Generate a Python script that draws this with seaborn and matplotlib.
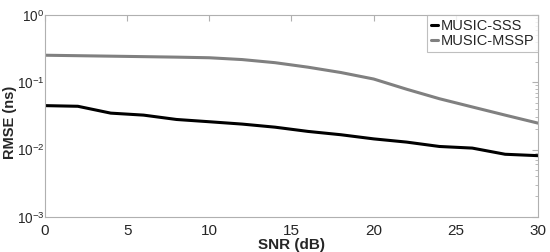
import numpy as np
import pandas as pd
import matplotlib
matplotlib.use('Agg')
import matplotlib.pyplot as plt
import seaborn as sns

# values
snr = [0, 2, 4, 6, 8, 10, 12, 14, 16, 18, 20, 22, 24, 26, 28, 30]
rmse_sss = [0.045, 0.044, 0.0348, 0.0325, 0.028, 0.0259, 0.0239, 0.0215,
            0.0186, 0.0166, 0.0144, 0.0129, 0.0111, 0.0105, 0.0085, 0.0081]
rmse_mssp = [0.253, 0.249, 0.245, 0.241, 0.237, 0.232, 0.218, 0.196,
             0.168, 0.14, 0.112, 0.079, 0.057, 0.043, 0.0325, 0.0247]
series = ['MUSIC-SSS', 'MUSIC-MSSP']
colors = ['#000000', '#808080']

df = pd.DataFrame({
    'SNR': snr * 2,
    'RMSE': rmse_sss + rmse_mssp,
    'Method': [series[0]] * len(snr) + [series[1]] * len(snr),
})

sns.set_style('white')
plt.rcParams['font.family'] = ['Liberation Sans', 'DejaVu Sans']
plt.rcParams['mathtext.fontset'] = 'custom'
plt.rcParams['mathtext.rm'] = 'Liberation Sans'
plt.rcParams['mathtext.it'] = 'Liberation Sans:italic'
plt.rcParams['mathtext.bf'] = 'Liberation Sans:bold'

fig = plt.figure(figsize=(5.5, 2.52), dpi=100)
ax = fig.add_axes([0.0818, 0.14, 0.8964, 0.8])

sns.lineplot(data=df, x='SNR', y='RMSE', hue='Method', palette=colors,
             linewidth=2.2, ax=ax)

ax.set_yscale('log')
ax.set_xlim(0, 30)
ax.set_ylim(1e-3, 1)
ax.set_xticks([0, 5, 10, 15, 20, 25, 30])
ax.set_yticks([1e-3, 1e-2, 1e-1, 1e0])
ax.set_xlabel('SNR (dB)', fontsize=11, fontweight='bold', labelpad=0)
ax.set_ylabel('RMSE (ns)', fontsize=10.5, fontweight='bold')
ax.yaxis.set_label_coords(-0.056, 0.47)

for sp in ax.spines.values():
    sp.set_color('#b0b0b0')
    sp.set_linewidth(0.8)
ax.tick_params(which='both', direction='in', top=True, right=True,
               color='#b0b0b0', labelsize=9.75, pad=0.5)
ax.tick_params(axis='x', labelsize=11, pad=5)
ax.tick_params(which='major', length=4)
ax.tick_params(which='minor', length=2)

leg = ax.legend(loc='upper right', borderaxespad=0, handlelength=0.5,
                handletextpad=0.2, fontsize=10.5, frameon=True, fancybox=False,
                borderpad=0.25, labelspacing=0.1)
leg.get_frame().set_edgecolor('#b0b0b0')
leg.get_frame().set_linewidth(0.8)

fig.savefig('out.png', dpi=100)
